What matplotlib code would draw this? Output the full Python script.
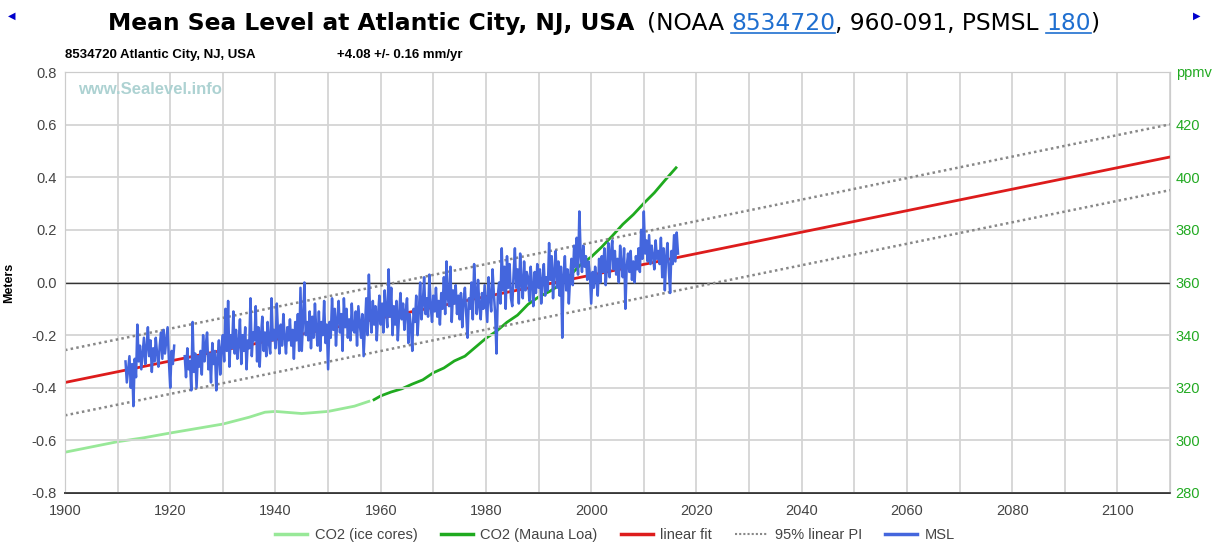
import numpy as np
import matplotlib
matplotlib.use("Agg")
import matplotlib.pyplot as plt
from matplotlib.lines import Line2D

# ---------------- data ----------------
msl_start = 1911.5
msl_step = 0.25
nan = float("nan")
msl_values = [
    -0.30, -0.38,                      # 1911 (Jul, Oct)
    -0.33, -0.28, -0.40, -0.31,        # 1912
    -0.47, -0.29, -0.36, -0.16,        # 1913
    -0.30, -0.24, -0.33, -0.27,        # 1914
    -0.21, -0.31, -0.25, -0.17,        # 1915
    -0.28, -0.22, -0.34, -0.25,        # 1916
    -0.30, -0.21, -0.27, -0.32,        # 1917
    -0.24, -0.19, -0.29, -0.18,        # 1918
    -0.27, -0.22, -0.17, -0.30,        # 1919
    -0.40, -0.26, -0.31, -0.24,        # 1920
    nan, nan, nan, nan,                # 1921
    nan, nan, nan, -0.28,              # 1922
    -0.36, -0.25, -0.33, -0.30,        # 1923
    -0.41, -0.15, -0.34, -0.27,        # 1924
    -0.40, -0.28, -0.32, -0.26,        # 1925
    -0.35, -0.20, -0.30, -0.24,        # 1926
    -0.19, -0.33, -0.27, -0.38,        # 1927
    -0.23, -0.31, -0.26, -0.41,        # 1928
    -0.29, -0.22, -0.35, -0.25,        # 1929
    -0.20, -0.30, -0.10, -0.26,        # 1930
    -0.07, -0.32, -0.20, -0.25,        # 1931
    -0.11, -0.27, -0.18, -0.29,        # 1932
    -0.23, -0.14, -0.31, -0.20,        # 1933
    -0.26, -0.17, -0.33, -0.22,        # 1934
    -0.25, -0.06, -0.28, -0.19,        # 1935
    -0.22, -0.09, -0.30, -0.17,        # 1936
    -0.32, -0.20, -0.13, -0.26,        # 1937
    -0.19, -0.28, -0.15, -0.23,        # 1938
    -0.27, -0.06, -0.22, -0.18,        # 1939
    -0.25, -0.08, -0.20, -0.27,        # 1940
    -0.16, -0.24, -0.12, -0.21,        # 1941
    -0.27, -0.17, -0.22, -0.14,        # 1942
    -0.24, -0.18, -0.29, -0.15,        # 1943
    -0.22, -0.12, -0.26, -0.02,        # 1944
    -0.26, -0.14, 0.00, -0.20,         # 1945
    -0.15, -0.22, -0.11, -0.25,        # 1946
    -0.13, -0.21, -0.08, -0.18,        # 1947
    -0.24, -0.11, -0.26, -0.15,        # 1948
    -0.20, -0.07, -0.23, -0.16,        # 1949
    -0.33, -0.15, -0.21, -0.06,        # 1950
    -0.18, -0.10, -0.24, -0.14,        # 1951
    -0.07, -0.19, -0.12, -0.26,        # 1952
    -0.06, -0.17, -0.10, -0.21,        # 1953
    -0.14, -0.22, -0.08, -0.18,        # 1954
    -0.19, -0.11, -0.24, -0.09,        # 1955
    -0.15, -0.21, -0.12, -0.28,        # 1956
    -0.17, -0.06, -0.20, 0.03,         # 1957
    -0.13, -0.19, -0.07, -0.16,        # 1958
    -0.09, -0.22, -0.12, -0.05,        # 1959
    -0.16, -0.08, -0.19, -0.03,        # 1960
    -0.11, -0.17, 0.05, -0.13,         # 1961
    -0.02, -0.20, -0.09, -0.16,        # 1962
    -0.07, -0.22, -0.12, -0.04,        # 1963
    -0.14, -0.08, -0.18, -0.11,        # 1964
    -0.06, -0.23, -0.12, -0.17,        # 1965
    -0.26, -0.10, -0.15, -0.05,        # 1966
    -0.20, -0.11, 0.00, -0.14,         # 1967
    -0.08, 0.02, -0.12, -0.06,         # 1968
    -0.13, 0.03, -0.09, -0.15,         # 1969
    -0.05, -0.11, -0.02, -0.13,        # 1970
    -0.07, -0.16, -0.04, -0.10,        # 1971
    0.02, -0.12, 0.08, -0.06,          # 1972
    -0.09, 0.06, -0.15, -0.03,         # 1973
    -0.08, -0.01, -0.12, -0.05,        # 1974
    -0.14, -0.04, -0.17, -0.07,        # 1975
    -0.02, -0.12, -0.21, -0.06,        # 1976
    -0.10, 0.00, -0.14, 0.07,          # 1977
    -0.03, -0.12, 0.01, -0.09,         # 1978
    -0.14, -0.04, -0.10, -0.01,        # 1979
    -0.08, -0.15, 0.02, -0.06,         # 1980
    -0.11, 0.05, -0.04, -0.12,         # 1981
    -0.27, -0.05, 0.00, -0.08,         # 1982
    0.13, -0.03, 0.06, -0.10,          # 1983
    0.10, -0.02, 0.07, -0.06,          # 1984
    -0.09, 0.03, 0.13, -0.02,          # 1985
    0.05, -0.08, 0.11, 0.00,           # 1986
    -0.06, 0.08, -0.03, 0.04,          # 1987
    0.02, -0.07, 0.06, -0.01,          # 1988
    -0.09, 0.04, -0.04, 0.07,          # 1989
    -0.02, 0.05, -0.08, 0.01,          # 1990
    0.07, -0.05, 0.02, -0.03,          # 1991
    0.15, 0.01, 0.10, -0.06,           # 1992
    0.04, 0.12, -0.02, 0.08,           # 1993
    -0.05, 0.06, -0.21, 0.03,          # 1994
    0.10, -0.03, 0.05, -0.08,          # 1995
    0.02, 0.09, -0.01, 0.14,           # 1996
    0.06, 0.17, 0.03, 0.27,            # 1997
    0.11, 0.04, 0.14, 0.06,            # 1998
    0.10, 0.01, 0.08, 0.03,            # 1999
    -0.08, 0.04, -0.02, 0.06,          # 2000
    0.01, -0.05, 0.09, 0.00,           # 2001
    0.10, 0.04, 0.13, -0.01,           # 2002
    0.06, 0.15, 0.02, 0.11,            # 2003
    0.16, 0.05, 0.12, 0.03,            # 2004
    0.09, 0.00, 0.14, 0.07,            # 2005
    0.02, 0.13, -0.10, 0.06,           # 2006
    0.11, 0.04, 0.12, 0.01,            # 2007
    0.08, 0.00, 0.10, 0.05,            # 2008
    0.13, 0.04, 0.20, 0.09,            # 2009
    0.27, 0.11, 0.16, 0.08,            # 2010
    0.18, 0.07, 0.14, 0.10,            # 2011
    0.05, 0.16, 0.09, 0.12,            # 2012
    0.07, 0.17, 0.02, 0.13,            # 2013
    -0.03, 0.10, 0.15, 0.05,           # 2014
    -0.04, 0.12, 0.07, 0.18,           # 2015
    0.08, 0.19, 0.11,                  # 2016
]

ice_years = [1900, 1905, 1910, 1915, 1920, 1925, 1930, 1935, 1938, 1940, 1945, 1950, 1955, 1958]
ice_ppm = [295.5, 297.5, 299.5, 301.0, 302.8, 304.5, 306.2, 308.8, 310.7, 311.0, 310.2, 311.0, 313.0, 315.0]

ml_years = [1958.5, 1960, 1962, 1964, 1966, 1968, 1970, 1972, 1974, 1976, 1978,
            1980, 1982, 1984, 1986, 1988, 1990, 1992, 1994, 1996, 1998, 2000,
            2002, 2004, 2006, 2008, 2010, 2012, 2014, 2016.3]
ml_ppm = [315.2, 316.9, 318.4, 319.6, 321.4, 323.0, 325.7, 327.5, 330.2, 332.0, 335.4,
          338.8, 341.5, 344.9, 347.6, 351.7, 354.5, 356.5, 359.0, 362.7, 366.8, 369.7,
          373.5, 377.7, 382.1, 385.8, 390.1, 394.1, 398.8, 404.0]

fit_years = [1900, 2110]
fit_values = [-0.380, 0.477]
pi_upper = [-0.257, 0.601]
pi_lower = [-0.505, 0.351]

x_ticks = list(range(1900, 2111, 10))
x_labels = [str(v) if v % 20 == 0 and v <= 2100 else "" for v in x_ticks]
y_ticks = [-0.8, -0.6, -0.4, -0.2, 0.0, 0.2, 0.4, 0.6, 0.8]
ppm_ticks = [280, 300, 320, 340, 360, 380, 400, 420, 440]
ppm_labels = ["280", "300", "320", "340", "360", "380", "400", "420", "ppmv"]

# ---------------- figure ----------------
W, H = 1215, 546
fig = plt.figure(figsize=(W / 100, H / 100), dpi=100)
fig.patch.set_facecolor("white")
ax = fig.add_axes([65 / W, 1 - 493 / H, (1170 - 65) / W, (493 - 72) / H])
ax2 = ax.twinx()
ax.set_zorder(ax2.get_zorder() + 1)
ax.patch.set_visible(False)

blue = "#4466dd"
red = "#dd1c1c"
green_dark = "#1faa1f"
green_light = "#98e898"
grey_txt = "#444444"

msl_years = msl_start + msl_step * np.arange(len(msl_values))

ax2.plot(ice_years, ice_ppm, color=green_light, lw=2.0, solid_capstyle="butt")
ax2.plot(ml_years, ml_ppm, color=green_dark, lw=2.0, solid_capstyle="butt")

ax.plot(fit_years, pi_upper, color="#888888", lw=1.8, linestyle=(0, (1, 1.3)))
ax.plot(fit_years, pi_lower, color="#888888", lw=1.8, linestyle=(0, (1, 1.3)))
ax.plot(fit_years, fit_values, color=red, lw=2.0)
ax.plot(msl_years, msl_values, color=blue, lw=1.8)
ax.axhline(0, color="#333333", lw=1.0, zorder=1.5)

ax.set_xlim(1900, 2110)
ax.set_ylim(-0.8, 0.8)
ax2.set_ylim(280, 440)

ax.set_xticks(x_ticks)
ax.set_xticklabels(x_labels)
ax.set_yticks(y_ticks)
ax.set_yticklabels([f"{v:.1f}" for v in y_ticks])
ax2.set_yticks(ppm_ticks)
ax2.set_yticklabels(ppm_labels)

ax.grid(True, color="#d4d4d4", lw=1.3)
ax.set_axisbelow(True)
ax.tick_params(length=0, labelsize=10.5, colors=grey_txt, pad=6)
ax.tick_params(axis="x", pad=8)
ax2.tick_params(length=0, labelsize=10.5, colors="#22aa22", pad=4)
for a in (ax, ax2):
    for s in ("top", "left", "right"):
        a.spines[s].set_color("#cccccc")
    a.spines["bottom"].set_color("#333333")
    a.spines["bottom"].set_linewidth(1.2)
for lbl in ax.get_xticklabels() + ax.get_yticklabels() + ax2.get_yticklabels():
    lbl.set_family("Liberation Sans")

ax.set_ylabel("Meters", fontsize=9, fontweight="bold", family="Liberation Sans",
              color="black", labelpad=12)


def px(x, y):
    return x / W, 1 - y / H


# watermark
fig.text(*px(78, 90), "www.Sealevel.info", fontsize=12, fontweight="bold",
         color="#add2d2", family="Liberation Sans", va="center", ha="left")

# ---------------- title ----------------
fig.canvas.draw()
r = fig.canvas.get_renderer()

title_pieces = [
    ("Mean Sea Level at Atlantic City, NJ, USA", dict(fontweight="bold", color="black"), False, 12),
    ("(NOAA ", dict(color="black"), False, 0),
    ("8534720", dict(color="#1f6fd0"), True, 0),
    (", 960-091, PSMSL ", dict(color="black"), False, 0),
    ("180", dict(color="#1f6fd0"), True, 0),
    (")", dict(color="black"), False, 0),
]
tsize = 16.8
widths = []
for s, kw, _, gap in title_pieces:
    t = fig.text(0, 0, s, fontsize=tsize, family="DejaVu Sans", **kw)
    bb = t.get_window_extent(renderer=r)
    widths.append(bb.width)
    t.remove()
total = sum(widths) + sum(p[3] for p in title_pieces)
x = 604 - total / 2
base = 30
for (s, kw, link, gap), w in zip(title_pieces, widths):
    fig.text(*px(x, base), s, fontsize=tsize, family="DejaVu Sans", va="baseline", ha="left", **kw)
    if link:
        fig.add_artist(Line2D([x / W, (x + w) / W], [1 - (base + 3) / H] * 2,
                              color=kw["color"], lw=1.2, transform=fig.transFigure))
    x += w + gap

# navigation arrows
fig.text(*px(12, 16), "\u25C0", fontsize=7, color="#0000cc", ha="center", va="center")
fig.text(*px(1197, 16), "\u25B6", fontsize=7, color="#0000cc", ha="center", va="center")

# subtitle
fig.text(*px(65, 58), "8534720 Atlantic City, NJ, USA", fontsize=9.5, fontweight="bold",
         family="Liberation Sans", va="baseline")
fig.text(*px(337, 58), "+4.08 +/- 0.16 mm/yr", fontsize=9.5, fontweight="bold",
         family="Liberation Sans", va="baseline")

# legend
handles = [
    Line2D([], [], color=green_light, lw=2.5),
    Line2D([], [], color=green_dark, lw=2.5),
    Line2D([], [], color=red, lw=2.5),
    Line2D([], [], color="#888888", lw=1.5, linestyle=(0, (1, 1))),
    Line2D([], [], color=blue, lw=2.5),
]
names = ["CO2 (ice cores)", "CO2 (Mauna Loa)", "linear fit", "95% linear PI", "MSL"]
fig.legend(handles, names, loc="center", bbox_to_anchor=(615 / W, 1 - 535 / H), ncol=5,
           frameon=False, handlelength=2.2, handletextpad=0.5,
           columnspacing=1.6, labelcolor=grey_txt, prop={"family": "Liberation Sans", "size": 10.5})

fig.savefig("out.png", dpi=100, facecolor="white")
